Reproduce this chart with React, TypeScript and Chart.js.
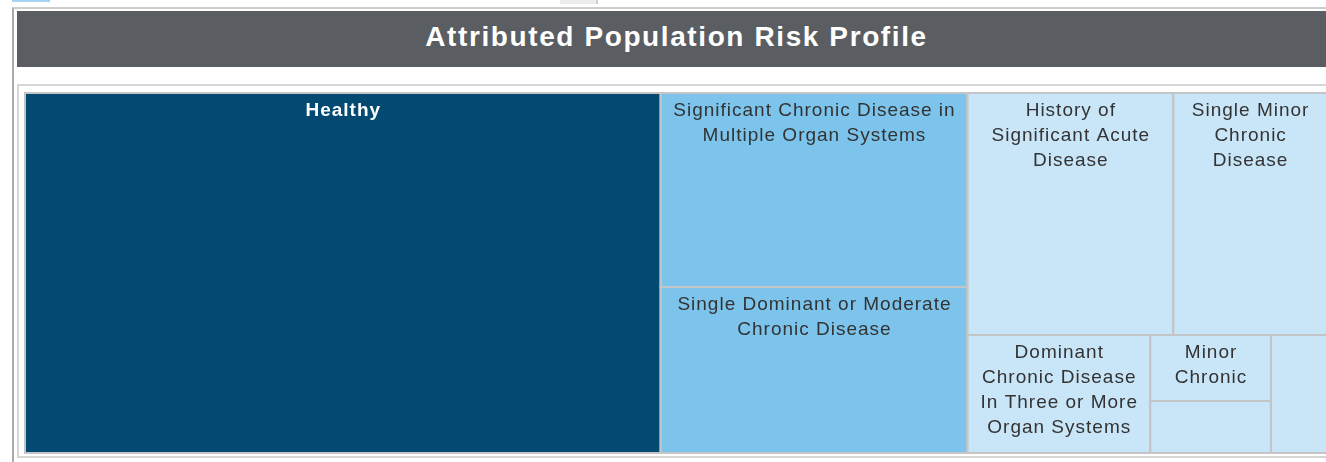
import React, { useEffect, useRef } from 'react';
import { Chart, registerables } from 'chart.js';

Chart.register(...registerables);

// ---- data ----
const chartTitle = 'Attributed Population Risk Profile';
const categories = [
  'Healthy',
  'Significant Chronic Disease in Multiple Organ Systems',
  'Single Dominant or Moderate Chronic Disease',
  'History of Significant Acute Disease',
  'Single Minor Chronic Disease',
  'Dominant Chronic Disease In Three or More Organ Systems',
  'Minor Chronic Disease in Multiple Organ Systems',
  'Dominant, Metastatic and Complicated Malignancies',
  'Catastrophic Conditions',
];
const members = [4881, 1270, 1086, 1063, 794, 460, 170, 134, 141];
const riskTier = [0, 1, 1, 2, 2, 2, 2, 2, 2];

// ---- styles ----
const tierFill = ['#034a72', '#7cc4ec', '#c9e6f8'];
const tierText = ['#ffffff', '#333333', '#333333'];
const tierWeight = ['bold', 'normal', 'normal'];
const borderColor = '#c3c5c7';
const FONT = '"Liberation Sans", Arial, sans-serif';
const FONT_SIZE = 19;
const LETTER = 1;
const LINE_H = 25;
const PAD_X = 10;
const FIRST_BASELINE = 22.5;
const BOTTOM_PAD = 8;

type Cell = { i: number; x0: number; y0: number; x1: number; y1: number };
const PHI = (1 + Math.sqrt(5)) / 2;

// squarified treemap layout (same approach as d3.treemapSquarify)
function squarify(values: number[], x0: number, y0: number, x1: number, y1: number): Cell[] {
  const out: Cell[] = [];
  const n = values.length;
  let value = values.reduce((a, b) => a + b, 0);
  let i0 = 0;
  let i1 = 0;
  while (i0 < n) {
    const dx = x1 - x0;
    const dy = y1 - y0;
    let sumValue = 0;
    do {
      sumValue = values[i1++];
    } while (!sumValue && i1 < n);
    let minValue = sumValue;
    let maxValue = sumValue;
    const alpha = Math.max(dy / dx, dx / dy) / (value * PHI);
    let beta = sumValue * sumValue * alpha;
    let minRatio = Math.max(maxValue / beta, beta / minValue);
    for (; i1 < n; ++i1) {
      const nv = values[i1];
      sumValue += nv;
      if (nv < minValue) minValue = nv;
      if (nv > maxValue) maxValue = nv;
      beta = sumValue * sumValue * alpha;
      const newRatio = Math.max(maxValue / beta, beta / minValue);
      if (newRatio > minRatio) {
        sumValue -= nv;
        break;
      }
      minRatio = newRatio;
    }
    if (dx < dy) {
      const ny = value ? y0 + (dy * sumValue) / value : y1;
      const k = (x1 - x0) / sumValue;
      let x = x0;
      for (let j = i0; j < i1; j++) {
        const w = values[j] * k;
        out.push({ i: j, x0: x, y0, x1: x + w, y1: ny });
        x += w;
      }
      y0 = ny;
    } else {
      const nx = value ? x0 + (dx * sumValue) / value : x1;
      const k = (y1 - y0) / sumValue;
      let y = y0;
      for (let j = i0; j < i1; j++) {
        const h = values[j] * k;
        out.push({ i: j, x0, y0: y, x1: nx, y1: y + h });
        y += h;
      }
      x0 = nx;
    }
    value -= sumValue;
    i0 = i1;
  }
  return out;
}

function wrapText(ctx: CanvasRenderingContext2D, text: string, maxW: number): string[] | null {
  const mw = (s: string) => ctx.measureText(s).width + LETTER * Math.max(0, s.length - 1);
  const words = text.split(' ');
  const lines: string[] = [];
  let cur = '';
  for (const w of words) {
    if (mw(w) > maxW) return null;
    const t = cur ? cur + ' ' + w : w;
    if (mw(t) <= maxW) cur = t;
    else {
      lines.push(cur);
      cur = w;
    }
  }
  if (cur) lines.push(cur);
  return lines;
}

const treemapPlugin = {
  id: 'treemapCells',
  afterDatasetsDraw(chart: any) {
    const ctx: CanvasRenderingContext2D = chart.ctx;
    const xs = chart.scales.x;
    const ys = chart.scales.y;
    const left = xs.getPixelForValue(0);
    const right = xs.getPixelForValue(1);
    const top = ys.getPixelForValue(1);
    const bottom = ys.getPixelForValue(0);
    const cells = squarify(members, left, top, right, bottom);
    ctx.save();
    for (const c of cells) {
      ctx.fillStyle = tierFill[riskTier[c.i]];
      ctx.fillRect(c.x0, c.y0, c.x1 - c.x0, c.y1 - c.y0);
    }
    ctx.strokeStyle = borderColor;
    ctx.lineWidth = 2;
    for (const c of cells) {
      ctx.strokeRect(c.x0, c.y0, c.x1 - c.x0, c.y1 - c.y0);
    }
    for (const c of cells) {
      const tier = riskTier[c.i];
      ctx.font = `${tierWeight[tier]} ${FONT_SIZE}px ${FONT}`;
      (ctx as any).letterSpacing = '0px';
      const w = c.x1 - c.x0;
      const h = c.y1 - c.y0;
      const lines = wrapText(ctx, categories[c.i], w - 2 * PAD_X);
      if (!lines) continue;
      let fit = 0;
      while (fit < lines.length && FIRST_BASELINE + fit * LINE_H + BOTTOM_PAD <= h) fit++;
      if (fit < Math.min(2, lines.length)) continue;
      (ctx as any).letterSpacing = `${LETTER}px`;
      ctx.fillStyle = tierText[tier];
      ctx.textAlign = 'center';
      ctx.textBaseline = 'alphabetic';
      const cx = (c.x0 + c.x1) / 2 + LETTER / 2;
      for (let k = 0; k < fit; k++) {
        ctx.fillText(lines[k], cx, c.y0 + FIRST_BASELINE + k * LINE_H);
      }
    }
    ctx.restore();
  },
};

function TreemapCanvas() {
  const ref = useRef<HTMLCanvasElement | null>(null);
  useEffect(() => {
    if (!ref.current) return;
    const chart = new Chart(ref.current, {
      type: 'scatter',
      data: { datasets: [{ label: chartTitle, data: [] }] },
      options: {
        responsive: false,
        animation: false,
        events: [],
        layout: { padding: 2 },
        scales: {
          x: { type: 'linear', min: 0, max: 1, display: false },
          y: { type: 'linear', min: 0, max: 1, display: false },
        },
        plugins: { legend: { display: false }, tooltip: { enabled: false }, title: { display: false } },
      },
      plugins: [treemapPlugin],
    } as any);
    return () => chart.destroy();
  }, []);
  return (
    <canvas
      ref={ref}
      width={1306}
      height={364}
      style={{ position: 'absolute', left: 23, top: 91, width: 1306, height: 364 }}
    />
  );
}

export default function App() {
  return (
    <div
      style={{
        position: 'fixed',
        left: 0,
        top: 0,
        width: 1326,
        height: 462,
        overflow: 'hidden',
        background: '#ffffff',
      }}
    >
      <div style={{ position: 'absolute', left: 12, top: 0, width: 38, height: 2, background: '#a6d2f3' }} />
      <div style={{ position: 'absolute', left: 560, top: 0, width: 36, height: 4, background: '#ececec', borderRight: '2px solid #cfcfcf' }} />
      <div
        style={{
          position: 'absolute',
          left: 12,
          top: 7,
          width: 1340,
          height: 470,
          borderLeft: '2px solid #ababab',
          borderTop: '2px solid #cdcdcd',
        }}
      />
      <div
        style={{
          position: 'absolute',
          left: 17,
          top: 11,
          width: 1319,
          height: 56,
          background: '#5a5e62',
          color: '#ffffff',
          fontFamily: FONT,
          fontWeight: 'bold',
          fontSize: 28,
          letterSpacing: '1.6px',
          lineHeight: '52px',
          textAlign: 'center',
          whiteSpace: 'nowrap',
        }}
      >
        {chartTitle}
      </div>
      <div
        style={{
          position: 'absolute',
          left: 17,
          top: 84,
          width: 1340,
          height: 370,
          borderLeft: '2px solid #d6d6d6',
          borderTop: '2px solid #d6d6d6',
          borderBottom: '2px solid #d6d6d6',
        }}
      />
      <TreemapCanvas />
    </div>
  );
}
